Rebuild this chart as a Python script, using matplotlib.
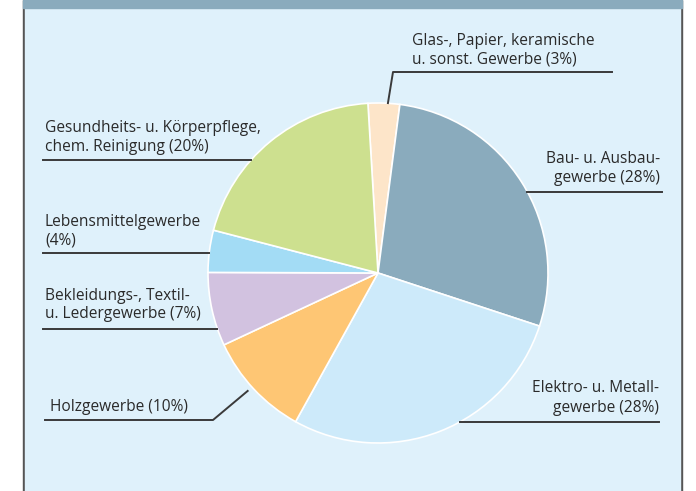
import numpy as np
import matplotlib.pyplot as plt
from matplotlib.patches import Rectangle

# Daten
labels = ["Glas-, Papier, keramische\nu. sonst. Gewerbe (3%)",
          "Bau- u. Ausbau-\ngewerbe (28%)",
          "Elektro- u. Metall-\ngewerbe (28%)",
          "Holzgewerbe (10%)",
          "Bekleidungs-, Textil-\nu. Ledergewerbe (7%)",
          "Lebensmittelgewerbe\n(4%)",
          "Gesundheits- u. Körperpflege,\nchem. Reinigung (20%)"]
anteile = [3, 28, 28, 10, 7, 4, 20]
farben = ["#fde5c9", "#8aabbd", "#cdeafa", "#fec674", "#d2c2e0", "#a3dcf5", "#cde08f"]

W, H = 696, 491
plt.rcParams['font.family'] = ['Open Sans', 'DejaVu Sans']

fig = plt.figure(figsize=(W / 100, H / 100), dpi=100)
ax = fig.add_axes([0, 0, 1, 1])

# Rahmen / Hintergrund
ax.add_patch(Rectangle((23, 0), 659, H, color="#555555", zorder=0))
ax.add_patch(Rectangle((25, 0), 655, H, color="#dff1fb", zorder=0))
ax.add_patch(Rectangle((23, H - 8), 659, 8, color="#8aabbd", zorder=1))

cx, cy, r = 378, H - 273, 170
start = 93.4
wedges, _ = ax.pie(anteile, colors=farben, startangle=start, counterclock=False,
                   center=(cx, cy), radius=r, frame=True,
                   wedgeprops=dict(edgecolor="white", linewidth=1.2))

ax.set_xlim(0, W)
ax.set_ylim(0, H)
ax.set_aspect('auto')
ax.axis('off')


def yi(y):
    return H - y


def rand_x(y, seite):
    dy = yi(y) - cy
    return cx + seite * np.sqrt(r ** 2 - dy ** 2)


lc = "#3a3a3a"
tc = "#2a2a2a"
fs = 11.2
ls = 1.25

# Glas
w = wedges[0]
mid = np.deg2rad((w.theta1 + w.theta2) / 2)
px, py = cx + r * np.cos(mid) + 4, cy + r * np.sin(mid)
ax.plot([px, 393, 612], [py, yi(72), yi(72)], color=lc, lw=1.4)
ax.text(412, yi(50), labels[0], fontsize=fs, ha='left', va='center', color=tc, linespacing=ls)

# Bau
ax.plot([rand_x(192, 1), 662], [yi(192), yi(192)], color=lc, lw=1.4)
ax.text(660, yi(168), labels[1], fontsize=fs, ha='right', va='center', color=tc, linespacing=ls)

# Elektro
ax.plot([rand_x(422, 1), 659], [yi(422), yi(422)], color=lc, lw=1.4)
ax.text(659, yi(398), labels[2], fontsize=fs, ha='right', va='center', color=tc, linespacing=ls)

# Holz
w = wedges[3]
mid = np.deg2rad((w.theta1 + w.theta2) / 2)
px, py = cx + r * np.cos(mid) - 6, cy + r * np.sin(mid) - 2
ax.plot([45, 213, px], [yi(420), yi(420), py], color=lc, lw=1.4)
ax.text(50, yi(407), labels[3], fontsize=fs, ha='left', va='center', color=tc)

# Bekleidung
ax.plot([43, rand_x(329, -1)], [yi(329), yi(329)], color=lc, lw=1.4)
ax.text(45, yi(305), labels[4], fontsize=fs, ha='left', va='center', color=tc, linespacing=ls)

# Lebensmittel
ax.plot([43, rand_x(253, -1)], [yi(253), yi(253)], color=lc, lw=1.4)
ax.text(45, yi(231), labels[5], fontsize=fs, ha='left', va='center', color=tc, linespacing=ls)

# Gesundheit
ax.plot([43, rand_x(160, -1)], [yi(160), yi(160)], color=lc, lw=1.4)
ax.text(45, yi(137), labels[6], fontsize=fs, ha='left', va='center', color=tc, linespacing=ls)

fig.savefig("out.png", dpi=100)
